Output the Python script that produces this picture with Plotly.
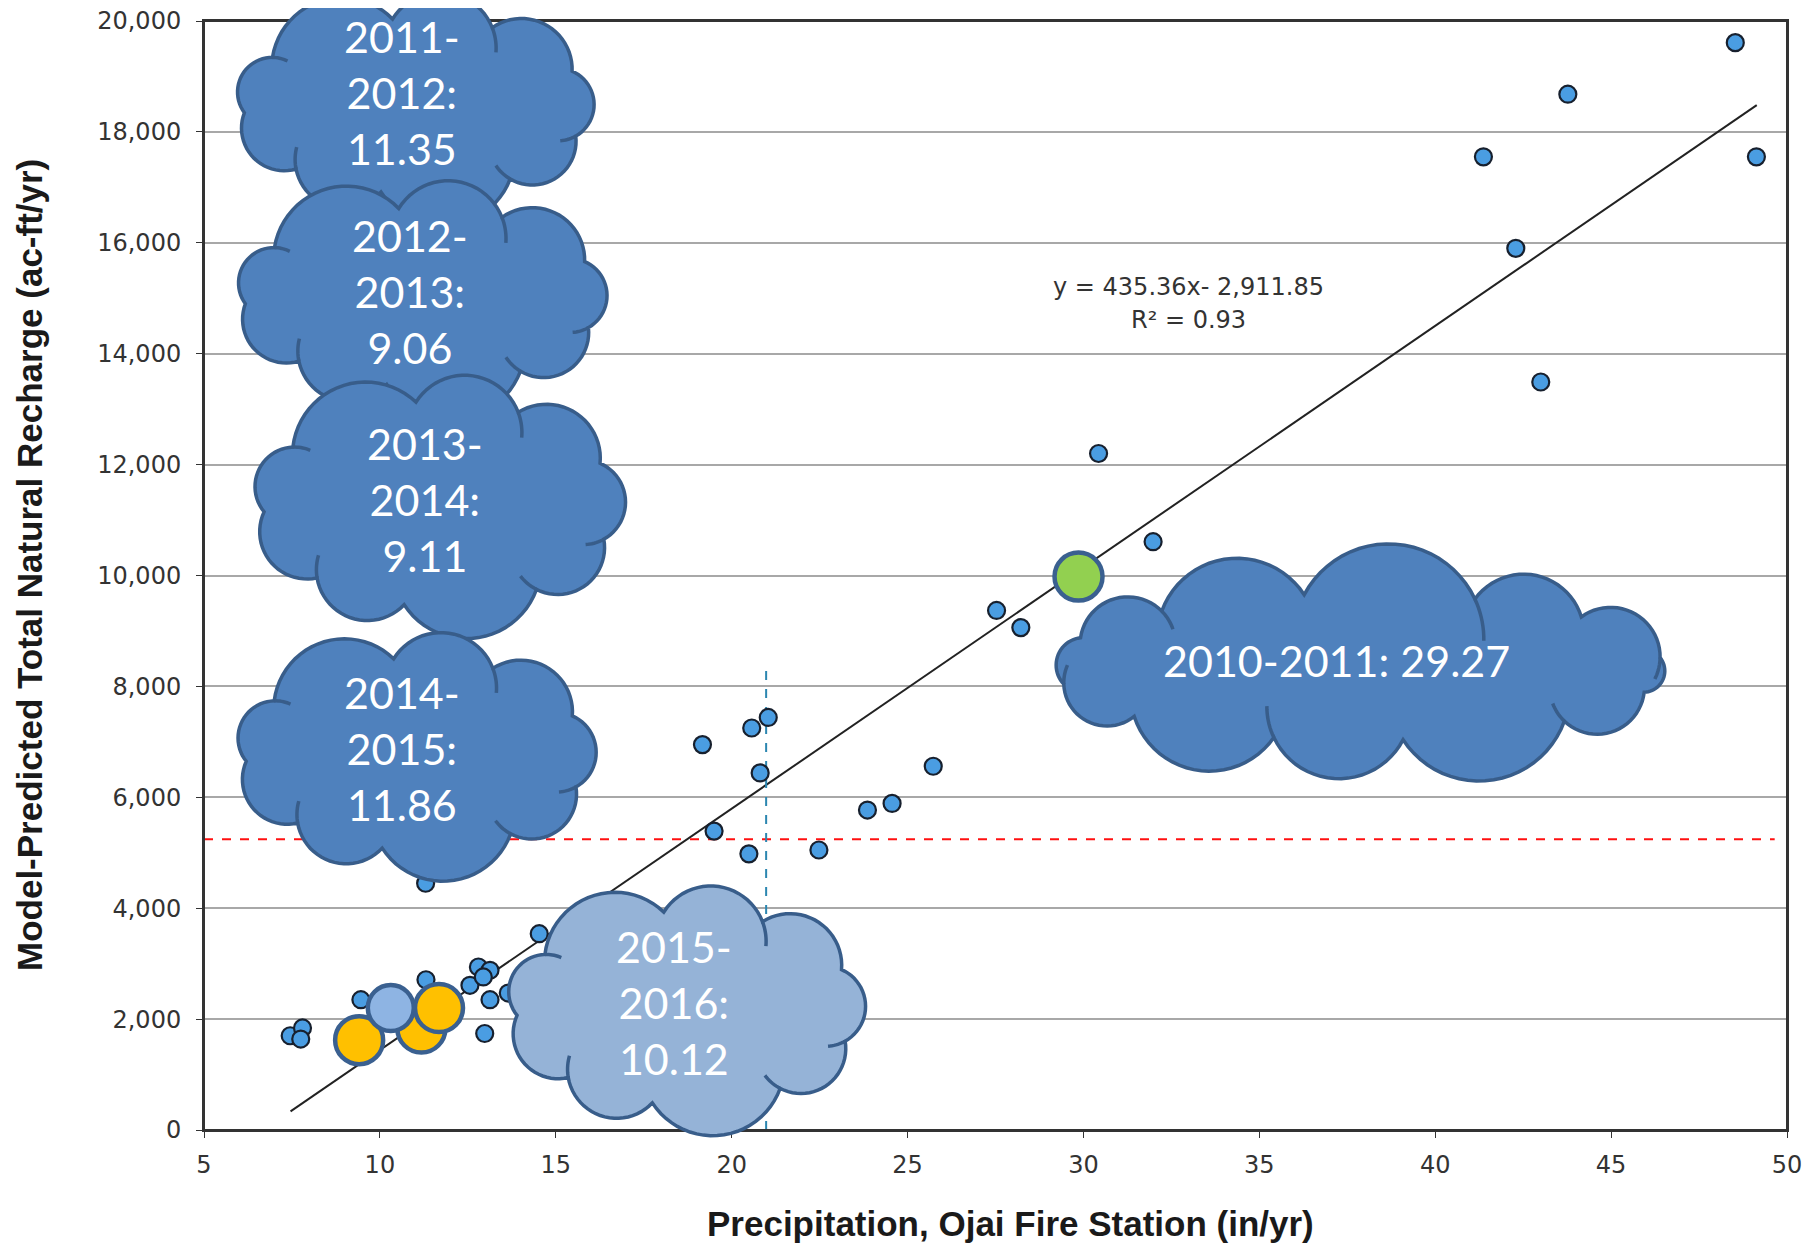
import numpy as np
import plotly.graph_objects as go

# ---------------- data ----------------
precip_hist = [7.45, 7.80, 7.75, 9.46, 11.31, 11.30, 12.56, 12.80, 13.13, 12.94,
               13.13, 12.98, 13.65, 14.53, 19.17, 20.57, 21.04, 20.81, 19.50, 20.49,
               22.48, 23.86, 24.56, 25.73, 27.53, 28.22, 30.43, 31.98, 41.37, 42.29,
               43.00, 43.77, 48.53, 49.13]
recharge_hist = [1700, 1840, 1640, 2350, 2710, 4450, 2610, 2940, 2880, 2760,
                 2350, 1740, 2470, 3540, 6950, 7250, 7440, 6440, 5390, 4980,
                 5050, 5770, 5890, 6560, 9370, 9060, 12200, 10610, 17550, 15900,
                 13490, 18680, 19610, 17550]

gold_precip = [11.18, 9.41, 11.68]
gold_recharge = [1830, 1620, 2200]
lightblue_precip = [10.31]
lightblue_recharge = [2200]
green_precip = [29.86]
green_recharge = [9980]

trend_slope = 435.36
trend_intercept = -2911.85
trend_x_range = [7.46, 49.14]
trend_r2 = 0.93

threshold_recharge = 5245
threshold_x_range = [5, 49.65]
threshold_precip = 20.98
threshold_y_range = [0, 8400]

cloud_years = ["2011-2012", "2012-2013", "2013-2014", "2014-2015", "2015-2016", "2010-2011"]
cloud_precip = ["11.35", "9.06", "9.11", "11.86", "10.12", "29.27"]

x_ticks = [5, 10, 15, 20, 25, 30, 35, 40, 45, 50]
y_ticks = [0, 2000, 4000, 6000, 8000, 10000, 12000, 14000, 16000, 18000, 20000]
X_RANGE = [5, 50]
Y_RANGE = [0, 20000]

# ---------------- layout geometry (page pixels) ----------------
OFF = 8                      # default body margin of the page
W, H = 1810 - OFF, 1249 - OFF
PL, PR, PT, PB = 204, 1787, 21, 1130


def px2paper(px, py):
    return (px - PL) / (PR - PL), (PB - py) / (PB - PT)


def px2data(px, py):
    xp, yp = px2paper(px, py)
    return (X_RANGE[0] + xp * (X_RANGE[1] - X_RANGE[0]),
            Y_RANGE[0] + yp * (Y_RANGE[1] - Y_RANGE[0]))


def to_path(pts, close):
    segs = []
    for k, (px, py) in enumerate(pts):
        x, y = px2paper(px, py)
        segs.append(("M" if k == 0 else "L") + f"{x:.5f},{y:.5f}")
    return " ".join(segs) + (" Z" if close else "")


def cloud_paths(cx, cy, a, b, nb, start):
    rx, ry = a * 0.86, b * 0.75
    weights = [1.0, 1.25, 0.9, 1.15, 1.05, 1.35, 0.95, 1.1, 1.2, 0.9, 1.3, 1.0, 1.15, 0.95]
    w = np.array([weights[i % len(weights)] for i in range(nb)])
    ang = np.concatenate([[0.0], np.cumsum(w) / w.sum() * 2 * np.pi]) + start
    pts = []
    inner = []
    ctr = np.array([cx, cy])
    for i in range(nb):
        a0, a1 = ang[i], ang[i + 1]
        A = np.array([cx + rx * np.cos(a0), cy + ry * np.sin(a0)])
        Bp = np.array([cx + rx * np.cos(a1), cy + ry * np.sin(a1)])
        M = (A + Bp) / 2
        d = Bp - A
        c = np.linalg.norm(d) / 2
        n = np.array([d[1], -d[0]]) / (2 * c)
        if np.dot(n, M - ctr) < 0:
            n = -n
        h = 0.62 * c
        Rr = (c * c + h * h) / (2 * h)
        O = M + n * (h - Rr)
        th0 = np.arctan2(A[1] - O[1], A[0] - O[0])
        th1 = np.arctan2(Bp[1] - O[1], Bp[0] - O[0])
        thn = np.arctan2(n[1], n[0])
        delta = (th1 - th0) % (2 * np.pi)
        if ((thn - th0) % (2 * np.pi)) < delta:
            sweep = delta
        else:
            sweep = delta - 2 * np.pi
        for t in np.linspace(0, 1, 24):
            th = th0 + sweep * t
            pts.append((O[0] + Rr * np.cos(th), O[1] + Rr * np.sin(th)))
        # short inner arc continuing the bump circle into the body
        if i % 2 == 0:
            ext = 0.45 * np.sign(sweep)
            arc = [(O[0] + Rr * np.cos(th1 + ext * t), O[1] + Rr * np.sin(th1 + ext * t))
                   for t in np.linspace(0, 1, 10)]
            inner.append(to_path(arc, False))
    return to_path(pts, True), inner


# cloud placement (page px): (center, half width, half height, text center, n bumps, fill)
cloud_geom = [
    ((415, 106), 199, 117, (402, 92), 9, "#4F81BD"),
    ((422, 297), 206, 119, (410, 291), 9, "#4F81BD"),
    ((439, 504), 204, 137, (425, 499), 9, "#4F81BD"),
    ((416, 754), 198, 128, (402, 748), 9, "#4F81BD"),
    ((686, 1008), 197, 129, (674, 1002), 9, "#95B3D7"),
    ((1359, 667), 353, 98, (1336, 660), 12, "#4F81BD"),
]

fig = go.Figure()

# regression line
tx = np.array(trend_x_range)
fig.add_trace(go.Scatter(x=tx, y=trend_slope * tx + trend_intercept, mode="lines",
                         line=dict(color="#222222", width=2), showlegend=False, hoverinfo="skip"))

# threshold lines
fig.add_trace(go.Scatter(x=threshold_x_range, y=[threshold_recharge] * 2, mode="lines",
                         line=dict(color="#FF1010", width=2, dash="dash"), showlegend=False))
fig.add_trace(go.Scatter(x=[threshold_precip] * 2, y=threshold_y_range, mode="lines",
                         line=dict(color="#2B86B0", width=2, dash="dash"), showlegend=False))

# historical points
fig.add_trace(go.Scatter(x=precip_hist, y=recharge_hist, mode="markers",
                         marker=dict(size=17, color="#4A9DE2", line=dict(color="#17202E", width=2.2)),
                         showlegend=False))

# highlighted recent years
big_line = dict(color="#3A6090", width=4.5)
fig.add_trace(go.Scatter(x=gold_precip[:2], y=gold_recharge[:2], mode="markers",
                         marker=dict(size=48, color="#FFC000", line=big_line), showlegend=False))
fig.add_trace(go.Scatter(x=lightblue_precip, y=lightblue_recharge, mode="markers",
                         marker=dict(size=46, color="#8EB4E3", line=big_line), showlegend=False))
fig.add_trace(go.Scatter(x=gold_precip[2:], y=gold_recharge[2:], mode="markers",
                         marker=dict(size=48, color="#FFC000", line=big_line), showlegend=False))
fig.add_trace(go.Scatter(x=green_precip, y=green_recharge, mode="markers",
                         marker=dict(size=48, color="#92D050", line=big_line), showlegend=False))

# plot frame (drawn first so the clouds sit on top of it)
shapes = [dict(type="rect", xref="paper", yref="paper", x0=0, x1=1, y0=0, y1=1, layer="above",
               line=dict(color="#333333", width=2), fillcolor="rgba(0,0,0,0)")]
annotations = []
for i, (ctr, a, b, tc, nb, fill) in enumerate(cloud_geom):
    outline, inner = cloud_paths(ctr[0], ctr[1], a, b, nb, start=0.35)
    shapes.append(dict(type="path", xref="paper", yref="paper", layer="above", path=outline,
                       fillcolor=fill, line=dict(color="#385D8A", width=3.5)))
    for p in inner:
        shapes.append(dict(type="path", xref="paper", yref="paper", layer="above", path=p,
                           line=dict(color="#385D8A", width=3.5)))
    yr = cloud_years[i]
    if i < 5:
        label = yr.split("-")[0] + "-<br>" + yr.split("-")[1] + ":<br>" + cloud_precip[i]
    else:
        label = yr + ": " + cloud_precip[i]
    xd, yd = px2data(*tc)
    annotations.append(dict(x=xd, y=yd, xref="x", yref="y", text=label, showarrow=False,
                            xanchor="center", yanchor="middle", align="center",
                            font=dict(family="Lato", size=43, color="white")))

# equation
annotations.append(dict(x=33.0, y=15200, xref="x", yref="y", showarrow=False,
                        text=f"y = {trend_slope:.2f}x- {abs(trend_intercept):,.2f}",
                        font=dict(family="DejaVu Sans", size=24, color="#333333")))
annotations.append(dict(x=33.0, y=14600, xref="x", yref="y", showarrow=False,
                        text=f"R² = {trend_r2:.2f}",
                        font=dict(family="DejaVu Sans", size=24, color="#333333")))

# axis titles
xp, yp = px2paper(29, 565)
annotations.append(dict(x=xp, y=yp, xref="paper", yref="paper", showarrow=False, textangle=-90,
                        text="<b>Model-Predicted Total Natural Recharge (ac-ft/yr)</b>",
                        xanchor="center", yanchor="middle",
                        font=dict(family="Liberation Sans", size=35, color="#1a1a1a")))
xp, yp = px2paper(1010, 1223)
annotations.append(dict(x=xp, y=yp, xref="paper", yref="paper", showarrow=False,
                        text="<b>Precipitation, Ojai Fire Station (in/yr)</b>",
                        xanchor="center", yanchor="middle",
                        font=dict(family="Liberation Sans", size=35, color="#1a1a1a")))

fig.update_layout(
    width=W, height=H,
    margin=dict(l=PL - OFF, r=W - (PR - OFF), t=PT - OFF, b=H - (PB - OFF), autoexpand=False),
    paper_bgcolor="white", plot_bgcolor="white",
    shapes=shapes, annotations=annotations,
    xaxis=dict(range=X_RANGE, tickvals=x_ticks, showgrid=False, zeroline=False, automargin=False,
               showline=True, mirror=True, linecolor="#333333", linewidth=2,
               ticks="outside", ticklen=6, tickcolor="#333333", ticklabelstandoff=6,
               ticklabeloverflow="allow",
               tickfont=dict(family="DejaVu Sans", size=24, color="#333333")),
    yaxis=dict(range=Y_RANGE, tickvals=y_ticks, tickformat=",", showgrid=True, automargin=False,
               gridcolor="#A8A8A8", gridwidth=1.5, zeroline=False,
               showline=True, mirror=True, linecolor="#333333", linewidth=2,
               ticks="outside", ticklen=6, tickcolor="#333333", ticklabelstandoff=10,
               ticklabeloverflow="allow",
               tickfont=dict(family="DejaVu Sans", size=24, color="#333333")),
)

fig.write_html("out.html")
